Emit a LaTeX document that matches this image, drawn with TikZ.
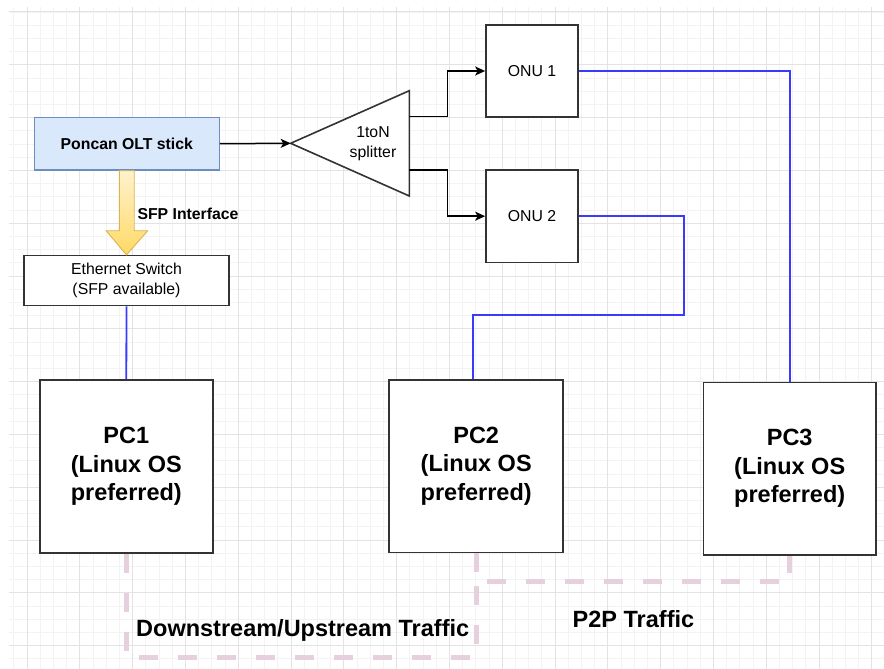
\documentclass[tikz,border=0pt]{standalone}
\usepackage{fontspec}
\setmainfont{Liberation Sans}
\usetikzlibrary{arrows.meta}

\definecolor{oltfill}{HTML}{DAE8FC}
\definecolor{oltline}{HTML}{6C8EBF}
\definecolor{boxline}{HTML}{333333}
\definecolor{cable}{HTML}{3A3AFF}
\definecolor{traffic}{HTML}{E6D0DE}
\definecolor{arrowtop}{HTML}{FFF2CC}
\definecolor{arrowbot}{HTML}{FFD966}
\definecolor{arrowline}{HTML}{D6B656}
\definecolor{gridmajor}{HTML}{E3E3E3}
\definecolor{gridminor}{HTML}{F3F3F3}

\tikzset{
  smalltext/.style={font=\fontsize{15.8}{19.8}\selectfont},
  bigtext/.style={font=\fontsize{23.5}{28.5}\selectfont\bfseries},
  device/.style={draw=boxline, line width=1.7pt, fill=white, rectangle,
    inner sep=0pt, align=center},
  olt/.style={draw=oltline, line width=1.3pt, fill=oltfill, rectangle,
    inner sep=0pt, align=center, font=\fontsize{15.8}{19}\selectfont\bfseries},
  fibre/.style={draw=black, line width=1.5pt},
  fibrearrow/.style={fibre, -{Stealth[length=10pt,width=9pt,inset=2.5pt]}},
  ether/.style={draw=cable, line width=1.8pt},
  flow/.style={draw=traffic, line width=5pt, dash pattern=on 19pt off 20pt},
}

\begin{document}
\begin{tikzpicture}[x=1pt,y=-1pt]
  % canvas
  \useasboundingbox (0,0) rectangle (884,669);
  \fill[white] (0,0) rectangle (884,669);

  % background grid
  \begin{scope}
    \clip (9,7) rectangle (884,669);
    \foreach \i in {-1,...,65}
      \draw[gridminor, line width=0.9pt] ({27+13.2*\i},7) -- ({27+13.2*\i},669);
    \foreach \j in {0,...,49}
      \draw[gridminor, line width=0.9pt] (9,{12+13.2*\j}) -- (884,{12+13.2*\j});
    \foreach \i in {0,...,16}
      \draw[gridmajor, line width=1pt] ({27+52.8*\i},7) -- ({27+52.8*\i},669);
    \foreach \j in {0,...,12}
      \draw[gridmajor, line width=1pt] (9,{12+52.8*\j}) -- (884,{12+52.8*\j});
  \end{scope}

  % equipment
  \node[olt, minimum width=185pt, minimum height=52.7pt] (olt) at (126.8,143.7) {Poncan OLT stick};
  \node[device, smalltext, line width=1.5pt, minimum width=205pt, minimum height=50pt] (sw) at (126.5,280.7)
    {Ethernet Switch\\(SFP available)};
  \node[device, bigtext, minimum width=172.7pt, minimum height=172.7pt] (pc1) at (126.3,466.3)
    {PC1\\(Linux OS\\preferred)};
  \node[device, bigtext, minimum width=174pt, minimum height=172.3pt] (pc2) at (476.2,466.2)
    {PC2\\(Linux OS\\preferred)};
  \node[device, bigtext, minimum width=172.7pt, minimum height=172.7pt] (pc3) at (789.7,468.7)
    {PC3\\(Linux OS\\preferred)};
  \node[device, smalltext, minimum width=92pt, minimum height=92.6pt] (onu1) at (532,71) {ONU 1};
  \node[device, smalltext, minimum width=92pt, minimum height=92.3pt] (onu2) at (532,216.2) {ONU 2};

  % optical splitter
  \coordinate (spltip) at (290.7,143.3);
  \coordinate (splup) at (409.3,116.7);
  \coordinate (spldn) at (409.3,170);
  \draw[draw=boxline, line width=1.6pt, fill=white, line join=miter]
    (spltip) -- (409.3,90.7) -- (409.3,196) -- cycle;
  \node[smalltext, align=center, inner sep=0pt] (spl) at (373,143.5) {1toN\\splitter};

  % SFP block arrow
  \shade[top color=arrowtop, bottom color=arrowbot, draw=arrowline, line width=0.9pt]
    ([xshift=-7.4pt]olt.south) -- ++(0,60) -- ++(-13.3,0) -- (sw.north)
    -- ([xshift=20.9pt,yshift=-60pt]olt.south) -- ++(-13.5,0) -- ([xshift=7.4pt]olt.south) -- cycle;
  \node[anchor=west, inner sep=0pt, font=\fontsize{15.8}{19}\selectfont\bfseries] (sfp) at (137.3,214) {SFP Interface};

  % fibre links
  \draw[fibrearrow] (olt.east) -- (spltip);
  \draw[fibrearrow] (splup) -- ++(38,0) |- (onu1.west);
  \draw[fibrearrow] (spldn) -- ++(38,0) |- (onu2.west);

  % ethernet cables
  \draw[ether] (sw.south) -- (pc1.north);
  \draw[ether] (onu1.east) -| (pc3.north);
  \draw[ether] (onu2.east) -| (684,315) -| ([xshift=-3.5pt]pc2.north);

  % traffic paths
  \coordinate (dsturn) at (476.2,657.7);
  \coordinate (p2pturn) at (476.2,581.7);
  \draw[flow] (pc1.south) |- (dsturn) -- (pc2.south);
  \draw[flow] (pc2.south) -- (p2pturn) -| (pc3.south);

  \node[bigtext, anchor=west, inner sep=0pt] (dslabel) at (136,630) {Downstream/Upstream Traffic};
  \node[bigtext, anchor=west, inner sep=0pt] (p2plabel) at (572.5,619) {P2P Traffic};
\end{tikzpicture}
\end{document}
